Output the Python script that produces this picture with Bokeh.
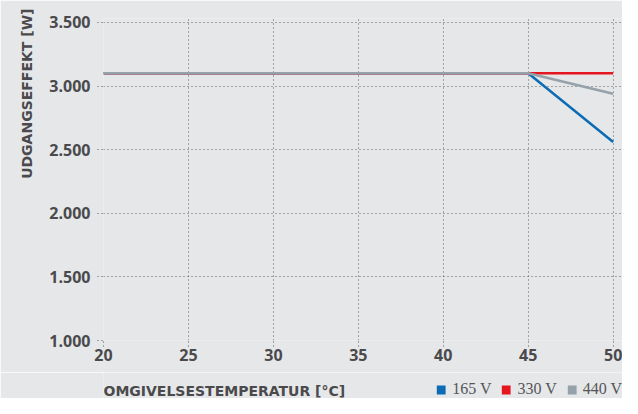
from bokeh.plotting import figure
from bokeh.models import Title, Legend, LegendItem, FixedTicker, Range1d, Label
from bokeh.layouts import column
from bokeh.embed import file_html
from bokeh.resources import INLINE

# Data
temps = [20, 45, 50]
p165 = [3100, 3100, 2560]
p330 = [3100, 3100, 3100]
p440 = [3100, 3100, 2940]
series_names = ["165 V", "330 V", "440 V"]
series_colors = ["#0b6bb5", "#e4161f", "#95a2aa"]

x_ticks = [20, 25, 30, 35, 40, 45, 50]
y_ticks = [1000, 1500, 2000, 2500, 3000, 3500]
y_tick_labels = ["1.000", "1.500", "2.000", "2.500", "3.000", "3.500"]
x_title = "OMGIVELSESTEMPERATUR [°C]"
y_title = "UDGANGSEFFEKT [W]"

BG = "#e6e7e9"
TXT = "#4a4a4c"
GRID = "#5c5c5e"
W = 622
H_MAIN = 372
H_STRIP = 26
LEFT = 103

p = figure(width=W, height=H_MAIN, output_backend="svg", toolbar_location=None,
           x_range=Range1d(20, 50.55), y_range=Range1d(1000, 3531),
           min_border_left=LEFT, min_border_right=0, min_border_top=18, min_border_bottom=32)
p.background_fill_color = BG
p.border_fill_color = BG
p.outline_line_color = None

for ax in (p.xaxis[0], p.yaxis[0]):
    ax.axis_line_color = None
    ax.major_tick_in = 0
    ax.major_tick_out = 6
    ax.major_tick_line_color = GRID
    ax.major_tick_line_dash = "1 3"
    ax.minor_tick_line_color = None
    ax.major_label_text_font = "Open Sans"
    ax.major_label_text_font_style = "bold"
    ax.major_label_text_font_size = "16px"
    ax.major_label_text_color = TXT

p.xaxis.ticker = FixedTicker(ticks=x_ticks)
p.yaxis.ticker = FixedTicker(ticks=y_ticks)
p.yaxis.major_label_overrides = {t: l for t, l in zip(y_ticks, y_tick_labels)}
p.xaxis.major_label_standoff = 2
p.yaxis.major_label_standoff = 7

p.grid.grid_line_color = GRID
p.grid.grid_line_dash = "1 3"
p.grid.grid_line_width = 1
p.xgrid.ticker = FixedTicker(ticks=x_ticks)
p.ygrid.ticker = FixedTicker(ticks=y_ticks)

for vals, col in zip([p165, p330, p440], series_colors):
    p.line(temps, vals, line_color=col, line_width=2.5)

yt = Title(text=y_title, align="right", offset=-10, text_font="DejaVu Sans", text_font_style="bold",
           text_font_size="14px", text_color=TXT, standoff=24)
p.add_layout(yt, "left")

# bottom strip: x-axis title at left, legend at right, on one row
# (its frame is aligned with the main frame by the column layout)
s = figure(width=W, height=H_STRIP, output_backend="svg", toolbar_location=None,
           x_range=Range1d(0, W - LEFT), y_range=Range1d(0, H_STRIP),
           x_axis_type=None, y_axis_type=None,
           min_border_left=0, min_border_right=0, min_border_top=0, min_border_bottom=0)
s.background_fill_color = BG
s.border_fill_color = BG
s.outline_line_color = None
for g in s.grid:
    g.visible = False

s.add_layout(Label(x=0, y=8, text=x_title, text_baseline="middle", text_align="left",
                   text_font="DejaVu Sans", text_font_style="bold", text_font_size="14px",
                   text_color=TXT))

# hidden renderers carrying the series data: only their legend swatches are shown
items = []
for name, vals, col in zip(series_names, [p165, p330, p440], series_colors):
    r = s.quad(left=temps, right=temps, top=vals, bottom=vals,
               fill_color=col, line_color=None, visible=False)
    items.append(LegendItem(label=name, renderers=[r]))
legend = Legend(items=items, orientation="horizontal", location="bottom_right",
                label_text_font="Liberation Serif", label_text_font_size="16px",
                label_text_color="#555557", glyph_width=11, glyph_height=11,
                label_standoff=6, spacing=9, padding=0, margin=0,
                border_line_color=None, background_fill_alpha=0, label_height=16,
                inactive_fill_alpha=0, click_policy="none")
s.add_layout(legend, "center")

layout = column(p, s, spacing=0)
open("out.html", "w").write(file_html(layout, INLINE))
